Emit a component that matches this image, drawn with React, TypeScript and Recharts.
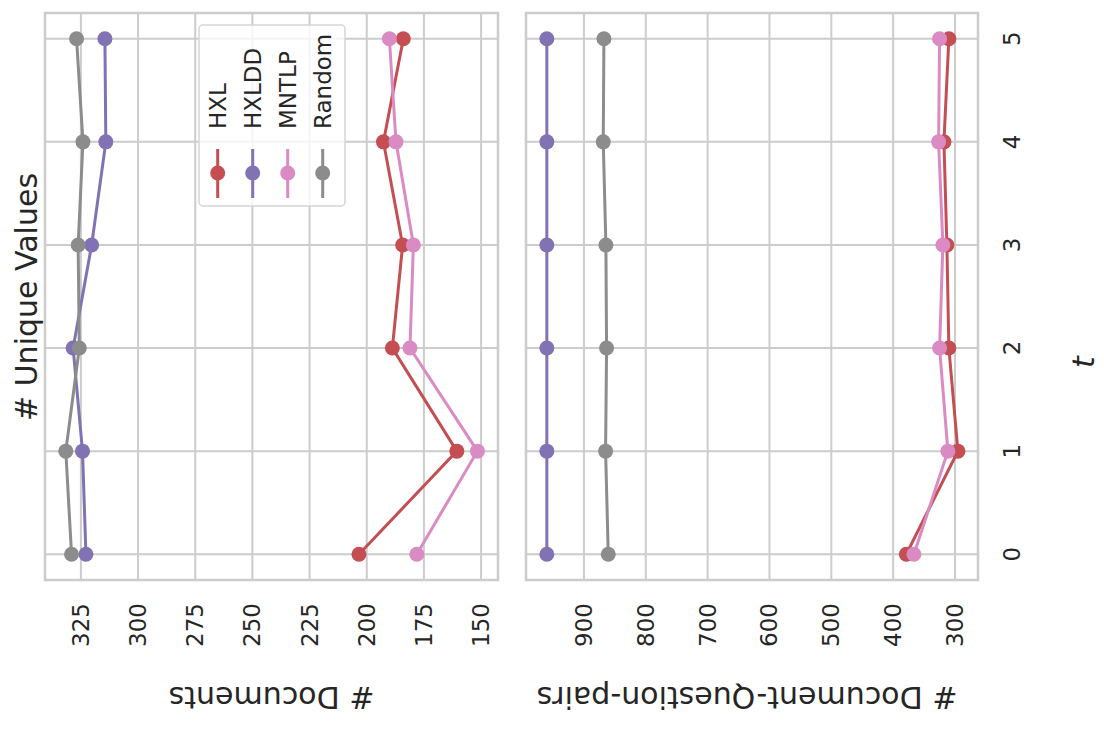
import { LineChart, Line, XAxis, YAxis, CartesianGrid, ReferenceArea } from "recharts";

const T_VALUES = [0, 1, 2, 3, 4, 5];
const SERIES = ["HXL", "HXLDD", "MNTLP", "Random"];
const COLORS: Record<string, string> = {
  HXL: "#C44E52",
  HXLDD: "#8172B3",
  MNTLP: "#DA8BC3",
  Random: "#8C8C8C",
};

// # Documents, one value per t
const DOCS_HXL = [203.4, 160.6, 188.8, 184.3, 192.7, 184.0];
const DOCS_HXLDD = [322.8, 324.3, 328.4, 320.3, 314.1, 314.5];
const DOCS_MNTLP = [178.1, 151.6, 181.1, 179.6, 187.2, 190.1];
const DOCS_RANDOM = [329.1, 331.6, 325.7, 326.2, 324.1, 326.9];
const DOCS_TICKS = [150, 175, 200, 225, 250, 275, 300, 325];
const DOCS_DOMAIN = [142.6, 340.7];

// # Document-Question-pairs, one value per t
const PAIRS_HXL = [378.7, 295.3, 309.9, 313.1, 317.9, 309.9];
const PAIRS_HXLDD = [960, 960, 960, 960, 960, 960];
const PAIRS_MNTLP = [366.4, 311.5, 324.9, 319.6, 326.5, 324.9];
const PAIRS_RANDOM = [860.7, 865, 863.4, 864.5, 868.8, 867.7];
const PAIRS_TICKS = [300, 400, 500, 600, 700, 800, 900];
const PAIRS_DOMAIN = [262.8, 993.7];

const T_DOMAIN = [-0.25, 5.25];

const FONT = "DejaVu Sans";
const TEXT_COLOR = "#262626";
const GRID_COLOR = "#cccccc";

const docsData = T_VALUES.map((t, i) => ({
  t,
  HXL: DOCS_HXL[i],
  HXLDD: DOCS_HXLDD[i],
  MNTLP: DOCS_MNTLP[i],
  Random: DOCS_RANDOM[i],
}));

const pairsData = T_VALUES.map((t, i) => ({
  t,
  HXL: PAIRS_HXL[i],
  HXLDD: PAIRS_HXLDD[i],
  MNTLP: PAIRS_MNTLP[i],
  Random: PAIRS_RANDOM[i],
}));

// whole figure is turned a quarter, so tick labels read bottom-to-top
const BottomTick = ({ x, y, payload }: any) => {
  const ty = y + 23;
  return (
    <text
      x={x}
      y={ty}
      transform={`rotate(-90 ${x} ${ty})`}
      textAnchor="end"
      dominantBaseline="central"
      fontSize={23}
      fontFamily={FONT}
      fill={TEXT_COLOR}
    >
      {payload.value}
    </text>
  );
};

const RightTick = ({ x, y, payload }: any) => {
  const tx = x + 34;
  return (
    <text
      x={tx}
      y={y}
      transform={`rotate(-90 ${tx} ${y})`}
      textAnchor="middle"
      dominantBaseline="central"
      fontSize={23}
      fontFamily={FONT}
      fill={TEXT_COLOR}
    >
      {payload.value}
    </text>
  );
};

// left panel shares t with the right one, so its labels stay empty
const EmptyTick = () => <g />;

const renderLines = () =>
  SERIES.map((s) => (
    <Line
      key={s}
      type="linear"
      dataKey={s}
      stroke={COLORS[s]}
      strokeWidth={3}
      dot={{ r: 7.5, fill: COLORS[s], stroke: COLORS[s], strokeWidth: 0 }}
      activeDot={false}
      isAnimationActive={false}
    />
  ));

const Panel = ({ data, ticks, domain, side }: any) => {
  const isRight = side === "right";
  return (
    <LineChart
      width={isRight ? 589 : 510}
      height={730}
      layout="vertical"
      data={data}
      margin={
        isRight
          ? { top: 13, right: 66, bottom: 90, left: 11 }
          : { top: 13, right: 12, bottom: 90, left: 45 }
      }
      style={{ position: "absolute", left: isRight ? 515 : 0, top: 0 }}
    >
      <CartesianGrid stroke={GRID_COLOR} strokeWidth={2} />
      <XAxis
        type="number"
        domain={domain}
        ticks={ticks}
        reversed
        allowDataOverflow
        height={60}
        tickSize={0}
        tickMargin={0}
        axisLine={false}
        tickLine={false}
        tick={<BottomTick />}
      />
      <YAxis
        type="number"
        dataKey="t"
        domain={T_DOMAIN}
        ticks={T_VALUES}
        reversed
        allowDataOverflow
        orientation={isRight ? "right" : "left"}
        width={isRight ? 60 : 0}
        tickSize={0}
        tickMargin={0}
        axisLine={false}
        tickLine={false}
        tick={isRight ? <RightTick /> : <EmptyTick />}
      />
      <ReferenceArea
        x1={domain[0]}
        x2={domain[1]}
        y1={T_DOMAIN[0]}
        y2={T_DOMAIN[1]}
        fill="none"
        stroke={GRID_COLOR}
        strokeWidth={2.5}
        ifOverflow="visible"
      />
      {renderLines()}
    </LineChart>
  );
};

const LegendBox = () => (
  <g transform="translate(199 25)">
    <rect
      x={0}
      y={0}
      width={146}
      height={181}
      rx={4}
      fill="#ffffff"
      fillOpacity={0.8}
      stroke="#d5d5d5"
      strokeWidth={1.5}
    />
    {SERIES.map((s, i) => {
      const cx = 18.7 + i * 35;
      return (
        <g key={s}>
          <text
            x={cx}
            y={104}
            transform={`rotate(-90 ${cx} 104)`}
            textAnchor="start"
            dominantBaseline="central"
            fontSize={23}
            fontFamily={FONT}
            fill={TEXT_COLOR}
          >
            {s}
          </text>
          <line x1={cx} x2={cx} y1={124} y2={173} stroke={COLORS[s]} strokeWidth={3} />
          <circle cx={cx} cy={148} r={7.5} fill={COLORS[s]} />
        </g>
      );
    })}
  </g>
);

export default function App() {
  return (
    <div
      style={{
        position: "absolute",
        left: 0,
        top: 0,
        width: 1104,
        height: 730,
        background: "#ffffff",
        fontFamily: FONT,
      }}
    >
      <Panel data={docsData} ticks={DOCS_TICKS} domain={DOCS_DOMAIN} side="left" />
      <Panel data={pairsData} ticks={PAIRS_TICKS} domain={PAIRS_DOMAIN} side="right" />
      <svg
        width={1104}
        height={730}
        style={{ position: "absolute", left: 0, top: 0, pointerEvents: "none" }}
      >
        <LegendBox />
        <text
          x={37}
          y={297}
          transform="rotate(-90 37 297)"
          textAnchor="middle"
          fontSize={30}
          fontFamily={FONT}
          fill={TEXT_COLOR}
        >
          # Unique Values
        </text>
        <text
          x={271.5}
          y={697}
          transform="rotate(180 271.5 697)"
          textAnchor="middle"
          dominantBaseline="central"
          fontSize={30}
          fontFamily={FONT}
          fill={TEXT_COLOR}
        >
          # Documents
        </text>
        <text
          x={747}
          y={697}
          transform="rotate(180 747 697)"
          textAnchor="middle"
          dominantBaseline="central"
          fontSize={30}
          fontFamily={FONT}
          fill={TEXT_COLOR}
        >
          # Document-Question-pairs
        </text>
        <text
          x={1094}
          y={362}
          transform="rotate(-90 1094 362)"
          textAnchor="middle"
          fontSize={30}
          fontStyle="italic"
          fontFamily={FONT}
          fill={TEXT_COLOR}
        >
          t
        </text>
      </svg>
    </div>
  );
}
